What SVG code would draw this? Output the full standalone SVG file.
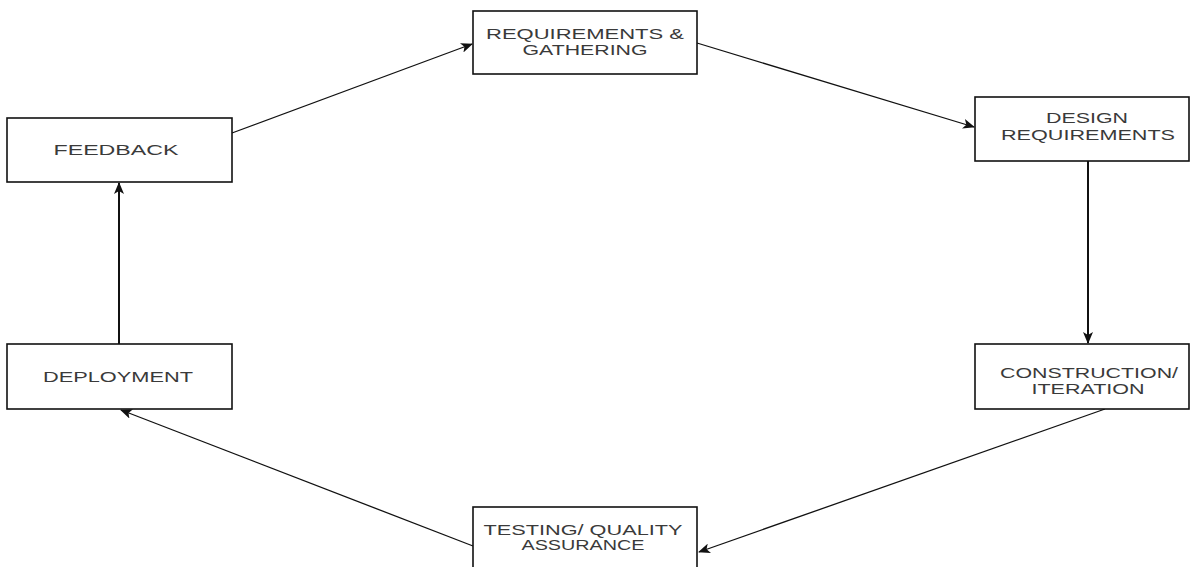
<svg xmlns="http://www.w3.org/2000/svg" width="1191" height="567" viewBox="0 0 1191 567">
<style>
.box{fill:#fff;stroke:#111;stroke-width:1.6}
.lbl{font-family:"Liberation Sans",Arial,sans-serif;font-size:15px;fill:#3a3a3a;text-anchor:middle}
.edge{stroke:#111;stroke-width:1.3;fill:none;marker-end:url(#ah)}
.vert{stroke-width:2}
</style>
<defs>
<marker id="ah" markerWidth="12" markerHeight="10" refX="11" refY="5" orient="auto" markerUnits="userSpaceOnUse">
<path d="M0,0 L12,5 L0,10 L3,5 Z" fill="#111"/>
</marker>
</defs>
<rect width="1191" height="567" fill="#fff"/>
<g id="connectors">
<line class="edge" x1="232" y1="133" x2="472" y2="44"/>
<line class="edge" x1="697" y1="43" x2="974" y2="127"/>
<line class="edge vert" x1="1088" y1="161" x2="1088" y2="343"/>
<line class="edge" x1="1105" y1="409" x2="699" y2="552"/>
<line class="edge" x1="473" y1="546" x2="121" y2="410"/>
<line class="edge vert" x1="119" y1="344" x2="119" y2="183"/>
</g>
<g id="req">
<rect class="box" x="473" y="11" width="224" height="63"/>
<text class="lbl" x="585" y="39" textLength="198" lengthAdjust="spacingAndGlyphs">REQUIREMENTS &amp;</text>
<text class="lbl" x="585" y="55" textLength="125" lengthAdjust="spacingAndGlyphs">GATHERING</text>
</g>
<g id="design">
<rect class="box" x="975" y="97" width="214" height="64"/>
<text class="lbl" x="1087" y="123" textLength="82" lengthAdjust="spacingAndGlyphs">DESIGN</text>
<text class="lbl" x="1088" y="140" textLength="174" lengthAdjust="spacingAndGlyphs">REQUIREMENTS</text>
</g>
<g id="construction">
<rect class="box" x="975" y="344" width="214" height="65"/>
<text class="lbl" x="1089" y="378" textLength="178" lengthAdjust="spacingAndGlyphs">CONSTRUCTION/</text>
<text class="lbl" x="1088" y="394" textLength="113" lengthAdjust="spacingAndGlyphs">ITERATION</text>
</g>
<g id="testing">
<rect class="box" x="473" y="507" width="224" height="70"/>
<text class="lbl" x="583" y="535" textLength="199" lengthAdjust="spacingAndGlyphs">TESTING/ QUALITY</text>
<text class="lbl" x="583" y="550" textLength="123" lengthAdjust="spacingAndGlyphs">ASSURANCE</text>
</g>
<g id="feedback">
<rect class="box" x="7" y="118" width="225" height="64"/>
<text class="lbl" x="116" y="155" textLength="125" lengthAdjust="spacingAndGlyphs">FEEDBACK</text>
</g>
<g id="deployment">
<rect class="box" x="7" y="344" width="225" height="65"/>
<text class="lbl" x="118" y="382" textLength="150" lengthAdjust="spacingAndGlyphs">DEPLOYMENT</text>
</g>
</svg>
